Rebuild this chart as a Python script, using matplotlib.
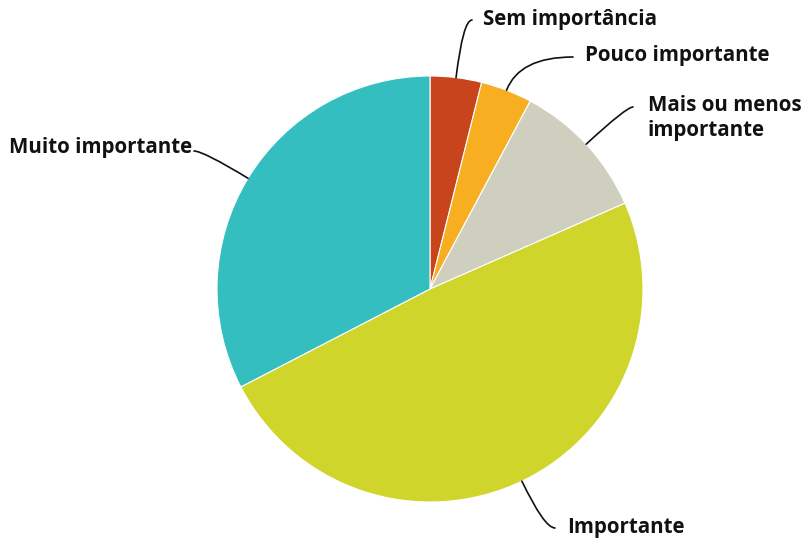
import numpy as np
import matplotlib.pyplot as plt

labels = ["Sem importância", "Pouco importante", "Mais ou menos\nimportante",
          "Importante", "Muito importante"]
values = [3.9, 3.9, 10.6, 49.0, 32.6]
colors = ["#C8441C", "#F7AE20", "#CFCFC0", "#CFD52A", "#34BEC0"]

# layout in pixels (figure 804x540), pie centre and radius
W, H = 804, 540
CX, CY, R = 430, 289, 213

def px(x, y):
    """pixel (from top-left) -> data coords with the pie at (0,0), radius 1"""
    return (x - CX) / R, (CY - y) / R

# where each leader line ends and where its text sits (pixels)
line_ends = [(472, 20), (573, 57), (633, 107), (555, 528), (194, 151)]
text_pos = [(483, 20, "left"), (585, 56, "left"), (648, 118, "left"),
            (567, 527, "left"), (192, 148, "right")]

fig = plt.figure(figsize=(W / 100, H / 100), dpi=100)
ax = fig.add_axes([0, 0, 1, 1])

wedges, _ = ax.pie(values, colors=colors, startangle=90, counterclock=False,
                   radius=1, wedgeprops=dict(edgecolor="white", linewidth=0.8))

ax.set_xlim(px(0, 0)[0], px(W, 0)[0])
ax.set_ylim(px(0, H)[1], px(0, 0)[1])
ax.axis("off")

for w, end, (tx, ty, ha), lab in zip(wedges, line_ends, text_pos, labels):
    mid = np.deg2rad((w.theta1 + w.theta2) / 2)
    edge = (np.cos(mid), np.sin(mid))
    ang = np.rad2deg(mid)
    ax.annotate("", xy=edge, xytext=px(*end),
                arrowprops=dict(arrowstyle="-", color="#111111", lw=1.2,
                                shrinkA=0, shrinkB=0,
                                connectionstyle=f"angle3,angleA=0,angleB={ang:.1f}"))
    ax.text(*px(tx, ty), lab, ha=ha, va="center", fontsize=14.8,
            fontweight="bold", family="Open Sans", color="#111111",
            linespacing=1.3)

fig.savefig("out.png", dpi=100)
